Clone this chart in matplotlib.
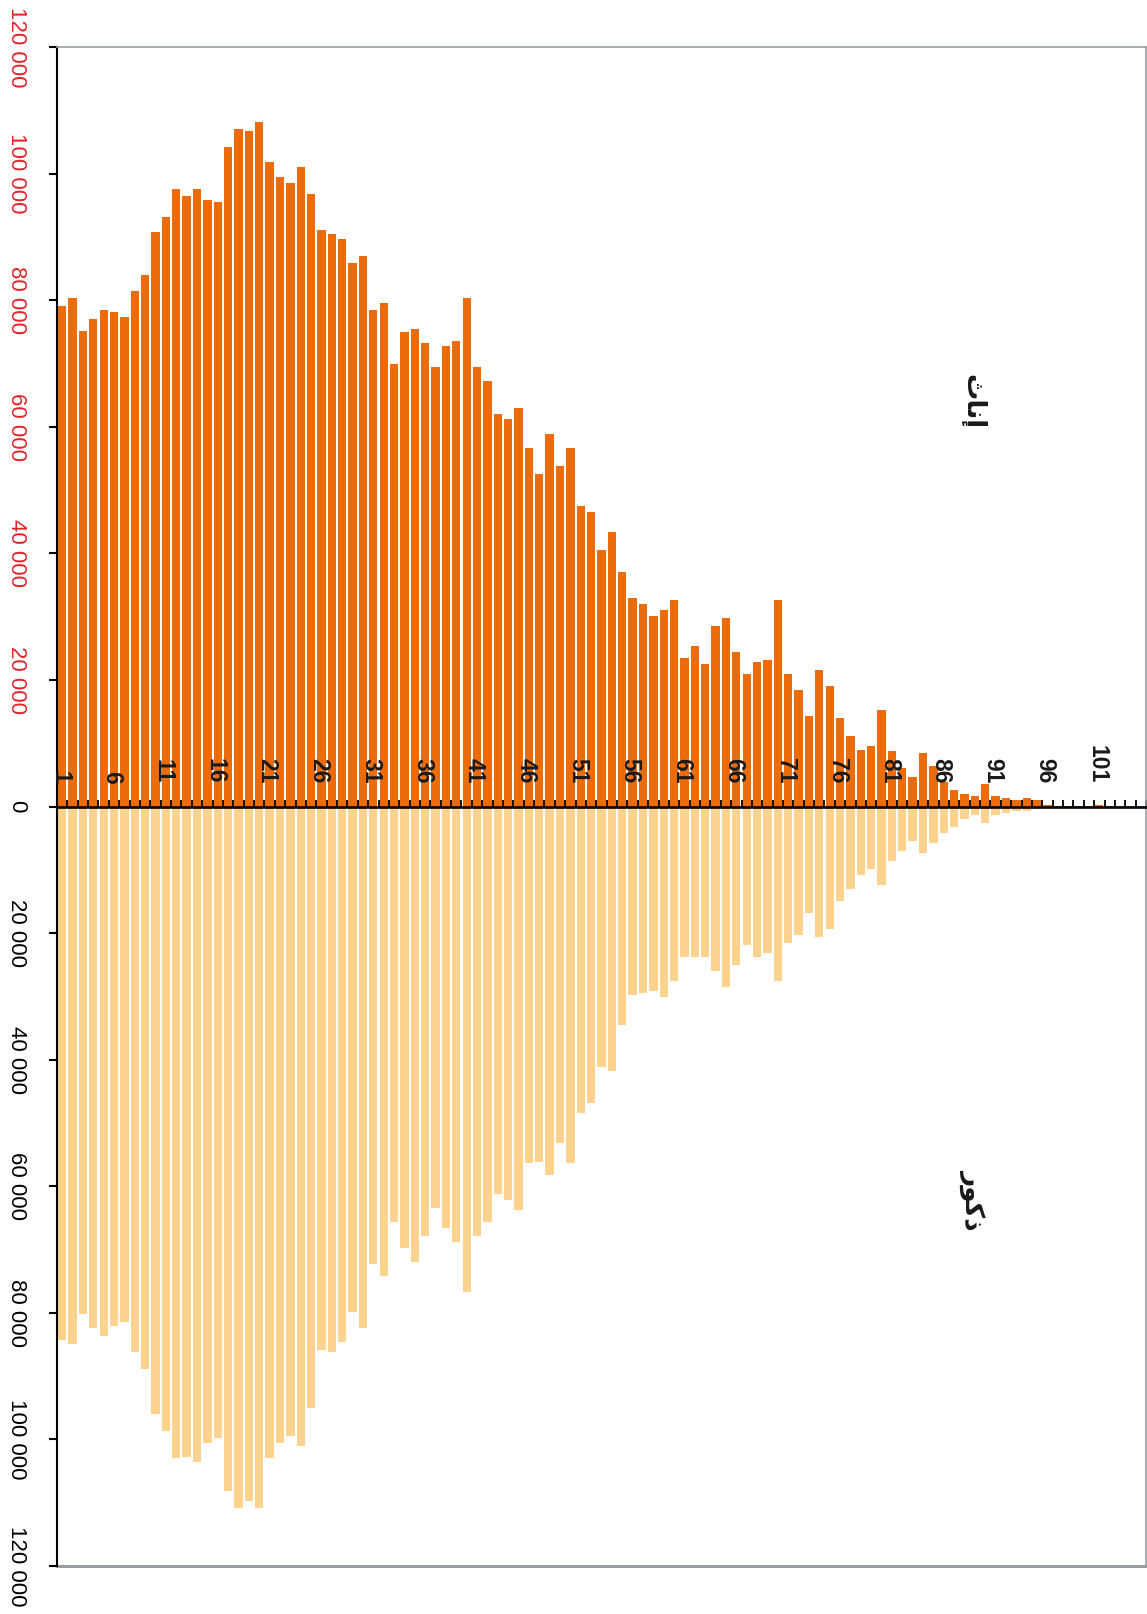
import numpy as np
import matplotlib
matplotlib.use("Agg")
import matplotlib.pyplot as plt

# population by single year of age (1..105)
ages = list(range(1, 106))

females = [79000, 80300, 75200, 77100, 78400, 78100, 77400, 81500, 84000, 90700,
           93200, 97600, 96400, 97600, 95800, 95500, 104200, 107100, 106800, 108100,
           101900, 99500, 98500, 101000, 96700, 91100, 90400, 89700, 85900, 86900,
           78400, 79600, 69900, 74900, 75500, 73300, 69500, 72700, 73600, 80300,
           69500, 67300, 62000, 61300, 62900, 56600, 52500, 58800, 53800, 56600,
           47500, 46500, 40500, 43400, 37100, 33000, 32000, 30100, 31100, 32600,
           23500, 25400, 22500, 28500, 29800, 24400, 21000, 22900, 23200, 32600,
           21000, 18400, 14300, 21600, 19100, 14000, 11200, 9000, 9600, 15300,
           8700, 6100, 4600, 8400, 6400, 3900, 2600, 2000, 1600, 3500,
           1600, 1300, 1000, 1300, 1000, 200, 150, 100, 100, 150,
           200, 100, 50, 50, 30]

males = [84300, 85000, 80200, 82400, 83700, 82100, 81500, 86200, 88800, 96000,
         98600, 103000, 102700, 103600, 100500, 99800, 108100, 110900, 109700, 110900,
         103000, 100500, 99500, 101100, 95100, 85900, 86200, 84600, 79900, 82400,
         72300, 74200, 65600, 69800, 72000, 67900, 63400, 66600, 68800, 76700,
         67900, 65600, 61200, 62200, 63700, 56400, 56100, 58300, 53200, 56400,
         48500, 46900, 41200, 41800, 34600, 29800, 29500, 29200, 30100, 27600,
         23800, 23800, 23800, 26000, 28500, 25100, 21900, 23800, 23200, 27600,
         21600, 20300, 16800, 20600, 19400, 14900, 13000, 10800, 9900, 12400,
         8600, 7000, 5400, 7300, 5700, 4200, 3200, 1900, 1300, 2600,
         1300, 1000, 700, 700, 400, 150, 100, 80, 60, 50,
         40, 30, 20, 10, 10]

age_labels = list(range(1, 102, 5))
value_ticks = list(range(-120000, 120001, 20000))
label_female = "إناث"
label_male = "ذكور"

# simple Arabic shaping (matplotlib has no bidi/joining support)
FORMS = {  # isolated, final, initial, medial
    "إ": ("\uFE87", "\uFE88", None, None),
    "ا": ("\uFE8D", "\uFE8E", None, None),
    "ن": ("\uFEE5", "\uFEE6", "\uFEE7", "\uFEE8"),
    "ث": ("\uFE99", "\uFE9A", "\uFE9B", "\uFE9C"),
    "ذ": ("\uFEAB", "\uFEAC", None, None),
    "ر": ("\uFEAD", "\uFEAE", None, None),
    "و": ("\uFEED", "\uFEEE", None, None),
    "ك": ("\uFED9", "\uFEDA", "\uFEDB", "\uFEDC"),
}


def shape_arabic(word):
    out = []
    for i, ch in enumerate(word):
        f = FORMS[ch]
        prev_joins = i > 0 and FORMS[word[i - 1]][2] is not None
        next_joins = i < len(word) - 1 and f[2] is not None
        if prev_joins and next_joins:
            out.append(f[3])
        elif prev_joins:
            out.append(f[1])
        elif next_joins:
            out.append(f[2])
        else:
            out.append(f[0])
    return "".join(reversed(out))


dark = "#EC6C0C"
light = "#FBD38F"
grey = "#9A9EA3"
red = "#E2232A"

fig = plt.figure(figsize=(11.47, 16.14), dpi=100)
ax = fig.add_axes([57 / 1147, 1 - 1566 / 1614, (1146 - 57) / 1147, (1566 - 47) / 1614])

ax.bar(ages, females, width=0.8, color=dark, linewidth=0)
ax.bar(ages, [-m for m in males], width=0.8, color=light, linewidth=0)

ax.set_xlim(0.5, 105.5)
ax.set_ylim(-120000, 120000)

# spines
ax.spines["bottom"].set_position(("data", 0))
ax.spines["bottom"].set_color("black")
ax.spines["bottom"].set_linewidth(1.9)
ax.spines["left"].set_color("black")
ax.spines["left"].set_linewidth(1.5)
for s in ["top", "right"]:
    ax.spines[s].set_color(grey)
    ax.spines[s].set_linewidth(1.2)
ax.axhline(-120000, color=grey, linewidth=2.2, clip_on=False)

# x ticks: small marks between categories
ax.set_xticks([])
ax.set_xticks(np.arange(0.5, 105.6, 1.0), minor=True)
ax.tick_params(axis="x", which="minor", direction="in", length=5, width=1.3, color="black")

# y ticks, rotated like the reference
ax.set_yticks(value_ticks)
ax.set_yticklabels([f"{abs(v):,}".replace(",", " ") for v in value_ticks],
                   rotation=-90, va="center", ha="right",
                   fontsize=16, family="Liberation Sans")
for v, lab in zip(value_ticks, ax.get_yticklabels()):
    lab.set_color(red if v > 0 else "black")
ax.tick_params(axis="y", direction="out", length=5.8, width=1.5, pad=15.5)

# age labels above the zero line
for a in age_labels:
    ax.text(a - 0.25, 3600, str(a), rotation=-90, rotation_mode="anchor",
            ha="right", va="center", fontsize=16.5, fontweight="bold",
            family="Liberation Sans", color="#1a1a1a")

ax.text(88.8, 63900, shape_arabic(label_female), rotation=-90, ha="center", va="center",
        fontsize=19, fontweight="bold", family="DejaVu Sans", color="#1a1a1a")
ax.text(88.8, -62000, shape_arabic(label_male), rotation=-90, ha="center", va="center",
        fontsize=19, fontweight="bold", family="DejaVu Sans", color="#1a1a1a")

fig.savefig("out.png", dpi=100)
